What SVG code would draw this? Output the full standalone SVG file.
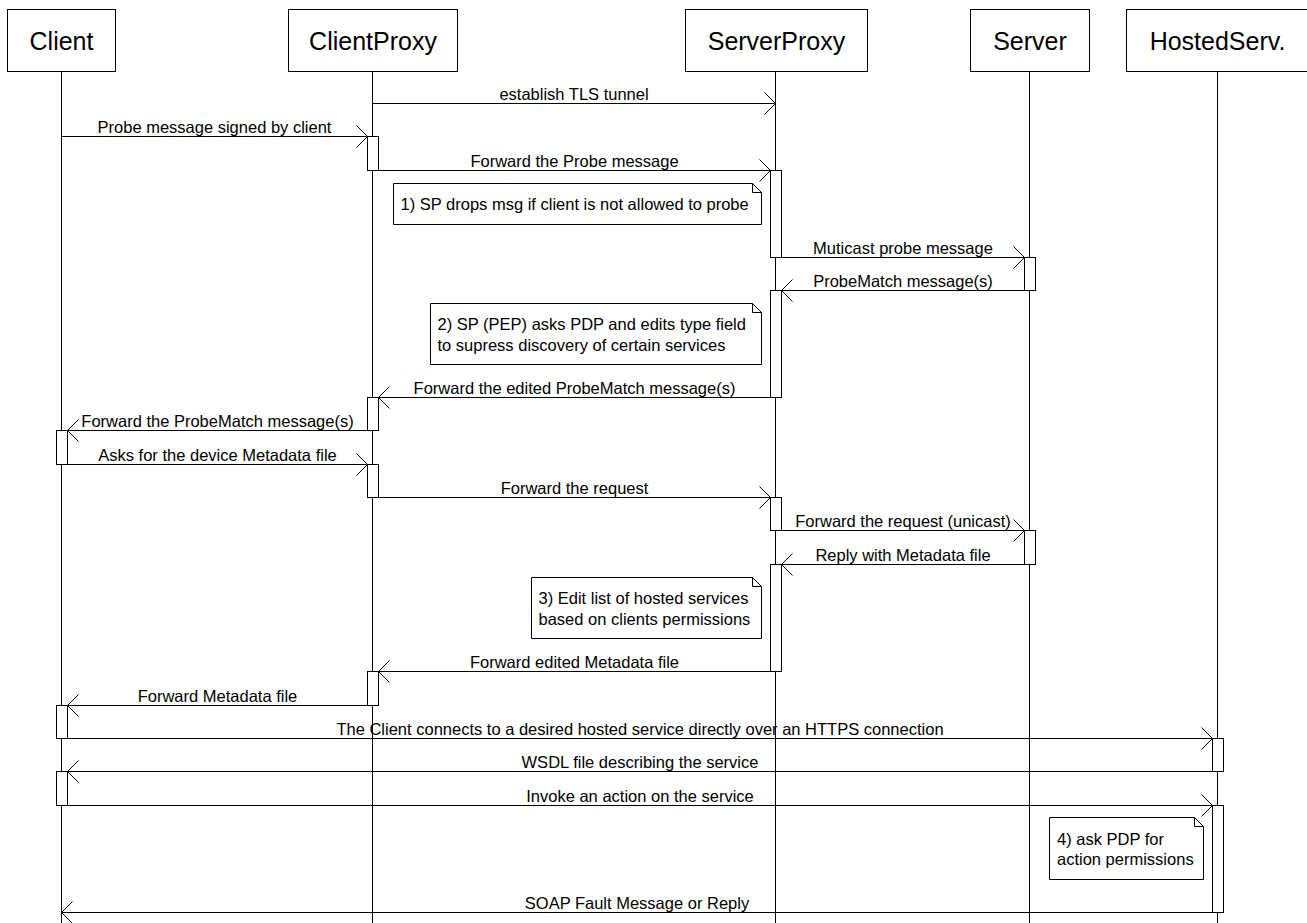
<svg xmlns="http://www.w3.org/2000/svg" width="1307" height="923" viewBox="0 0 1307 923">
<defs>
<style>
.hdr{fill:#fff;stroke:#000;stroke-width:1}
.ht{font-family:"Liberation Sans",Arial,sans-serif;font-size:25px;fill:#000;text-anchor:middle}
.life{stroke:#000;stroke-width:1;fill:none}
.bar{fill:#fff;stroke:#000;stroke-width:1}
.msg{stroke:#000;stroke-width:1;fill:none;marker-end:url(#arr)}
.lt{font-family:"Liberation Sans",Arial,sans-serif;font-size:16.5px;fill:#000;text-anchor:middle}
.note{fill:#fff;stroke:#000;stroke-width:1}
.fold{fill:none;stroke:#000;stroke-width:1}
.nt{font-family:"Liberation Sans",Arial,sans-serif;font-size:16.5px;fill:#000}
</style>
<marker id="arr" markerWidth="12" markerHeight="24" refX="11" refY="11" orient="auto" markerUnits="userSpaceOnUse" overflow="visible">
<path d="M0,0 L11,11 L0,22" fill="none" stroke="#000" stroke-width="1"/>
</marker>
</defs>
<rect width="1307" height="923" fill="#fff"/>

<g id="lifelines">
<line class="life" x1="61.5" y1="71.5" x2="61.5" y2="923"/>
<line class="life" x1="372.5" y1="71.5" x2="372.5" y2="923"/>
<line class="life" x1="775.5" y1="71.5" x2="775.5" y2="923"/>
<line class="life" x1="1029.5" y1="71.5" x2="1029.5" y2="923"/>
<line class="life" x1="1217.5" y1="71.5" x2="1217.5" y2="923"/>
</g>

<g id="node-client">
<rect class="hdr" x="7.5" y="9.5" width="108" height="62"/>
<text class="ht" x="61.5" y="50">Client</text>
</g>
<g id="node-clientproxy">
<rect class="hdr" x="288.5" y="9.5" width="169" height="62"/>
<text class="ht" x="373" y="50">ClientProxy</text>
</g>
<g id="node-serverproxy">
<rect class="hdr" x="685.5" y="9.5" width="182" height="62"/>
<text class="ht" x="776.5" y="50">ServerProxy</text>
</g>
<g id="node-server">
<rect class="hdr" x="970.5" y="9.5" width="119" height="62"/>
<text class="ht" x="1030" y="50">Server</text>
</g>
<g id="node-hostedserv">
<rect class="hdr" x="1126.5" y="9.5" width="182" height="62"/>
<text class="ht" x="1217.5" y="50">HostedServ.</text>
</g>

<g id="activations">
<rect class="bar" x="367.5" y="136.5" width="11" height="34"/>
<rect class="bar" x="770.5" y="170.5" width="11" height="87"/>
<rect class="bar" x="1024.5" y="257.5" width="11" height="33"/>
<rect class="bar" x="770.5" y="290.5" width="11" height="107"/>
<rect class="bar" x="367.5" y="397.5" width="11" height="33"/>
<rect class="bar" x="56.5" y="430.5" width="11" height="34"/>
<rect class="bar" x="367.5" y="464.5" width="11" height="33"/>
<rect class="bar" x="770.5" y="497.5" width="11" height="33"/>
<rect class="bar" x="1024.5" y="530.5" width="11" height="34"/>
<rect class="bar" x="770.5" y="564.5" width="11" height="107"/>
<rect class="bar" x="367.5" y="671.5" width="11" height="34"/>
<rect class="bar" x="56.5" y="705.5" width="11" height="33"/>
<rect class="bar" x="1212.5" y="738.5" width="11" height="33"/>
<rect class="bar" x="56.5" y="771.5" width="11" height="34"/>
<rect class="bar" x="1212.5" y="805.5" width="11" height="107"/>
</g>

<g id="connectors">
<line class="msg" x1="372.5" y1="103.5" x2="775.5" y2="103.5"/>
<text class="lt" x="574" y="99.5">establish TLS tunnel</text>
<line class="msg" x1="61.5" y1="136.5" x2="367.5" y2="136.5"/>
<text class="lt" x="214.5" y="132.5">Probe message signed by client</text>
<line class="msg" x1="378.5" y1="170.5" x2="770.5" y2="170.5"/>
<text class="lt" x="574.5" y="166.5">Forward the Probe message</text>
<line class="msg" x1="781.5" y1="257.5" x2="1024.5" y2="257.5"/>
<text class="lt" x="903" y="253.5">Muticast probe message</text>
<line class="msg" x1="1024.5" y1="290.5" x2="781.5" y2="290.5"/>
<text class="lt" x="903" y="286.5">ProbeMatch message(s)</text>
<line class="msg" x1="770.5" y1="397.5" x2="378.5" y2="397.5"/>
<text class="lt" x="574.5" y="393.5">Forward the edited ProbeMatch message(s)</text>
<line class="msg" x1="367.5" y1="430.5" x2="67.5" y2="430.5"/>
<text class="lt" x="217.5" y="426.5">Forward the ProbeMatch message(s)</text>
<line class="msg" x1="67.5" y1="464.5" x2="367.5" y2="464.5"/>
<text class="lt" x="217.5" y="460.5">Asks for the device Metadata file</text>
<line class="msg" x1="378.5" y1="497.5" x2="770.5" y2="497.5"/>
<text class="lt" x="574.5" y="493.5">Forward the request</text>
<line class="msg" x1="781.5" y1="530.5" x2="1024.5" y2="530.5"/>
<text class="lt" x="903" y="526.5">Forward the request (unicast)</text>
<line class="msg" x1="1024.5" y1="564.5" x2="781.5" y2="564.5"/>
<text class="lt" x="903" y="560.5">Reply with Metadata file</text>
<line class="msg" x1="770.5" y1="671.5" x2="378.5" y2="671.5"/>
<text class="lt" x="574.5" y="667.5">Forward edited Metadata file</text>
<line class="msg" x1="367.5" y1="705.5" x2="67.5" y2="705.5"/>
<text class="lt" x="217.5" y="701.5">Forward Metadata file</text>
<line class="msg" x1="67.5" y1="738.5" x2="1212.5" y2="738.5"/>
<text class="lt" x="640" y="734.5">The Client connects to a desired hosted service directly over an HTTPS connection</text>
<line class="msg" x1="1212.5" y1="771.5" x2="67.5" y2="771.5"/>
<text class="lt" x="640" y="767.5">WSDL file describing the service</text>
<line class="msg" x1="67.5" y1="805.5" x2="1212.5" y2="805.5"/>
<text class="lt" x="640" y="801.5">Invoke an action on the service</text>
<line class="msg" x1="1212.5" y1="912.5" x2="61.5" y2="912.5"/>
<text class="lt" x="637" y="908.5">SOAP Fault Message or Reply</text>
</g>

<g id="note-1">
<path class="note" d="M393.5,183.5 H752.5 L761.5,192.5 V224.5 H393.5 Z"/>
<path class="fold" d="M752.5,183.5 V192.5 H761.5"/>
<text class="nt" x="400.5" y="209.5">1) SP drops msg if client is not allowed to probe</text>
</g>
<g id="note-2">
<path class="note" d="M430.5,303.5 H752.5 L761.5,312.5 V364.5 H430.5 Z"/>
<path class="fold" d="M752.5,303.5 V312.5 H761.5"/>
<text class="nt" x="437.5" y="329.5">2) SP (PEP) asks PDP and edits type field</text>
<text class="nt" x="437.5" y="350.5">to supress discovery of certain services</text>
</g>
<g id="note-3">
<path class="note" d="M531.5,577.5 H752.5 L761.5,586.5 V638.5 H531.5 Z"/>
<path class="fold" d="M752.5,577.5 V586.5 H761.5"/>
<text class="nt" x="538.5" y="604">3) Edit list of hosted services</text>
<text class="nt" x="538.5" y="624.5">based on clients permissions</text>
</g>
<g id="note-4">
<path class="note" d="M1049.5,817.5 H1194.5 L1203.5,826.5 V879.5 H1049.5 Z"/>
<path class="fold" d="M1194.5,817.5 V826.5 H1203.5"/>
<text class="nt" x="1057" y="845">4) ask PDP for</text>
<text class="nt" x="1057" y="865">action permissions</text>
</g>
</svg>
